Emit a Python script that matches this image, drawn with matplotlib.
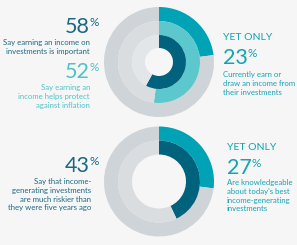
import matplotlib.pyplot as plt

# survey values (percent)
top_values = [23, 52, 58]          # outer, middle, inner ring
top_colors = ["#00a3b5", "#5cc8cd", "#00627c"]
top_greys = ["#cfd4d8", "#d9dde0", "#e3e6e9"]

bottom_values = [27, 43]           # outer, inner ring
bottom_colors = ["#00a3b5", "#00627c"]
bottom_greys = ["#cfd4d8", "#d9dde0"]

labels_58 = "Say earning an income on\ninvestments is important"
labels_52 = "Say earning an\nincome helps protect\nagainst inflation"
labels_23 = "Currently earn or\ndraw an income from\ntheir investments"
labels_43 = "Say that income-\ngenerating investments\nare much riskier than\nthey were five years ago"
labels_27 = "Are knowledgeable\nabout today's best\nincome-generating\ninvestments"

bg = "#f6f6f6"
W, H = 297, 245

plt.rcParams["font.family"] = ["Lato", "DejaVu Sans"]

fig = plt.figure(figsize=(W / 100, H / 100), dpi=100, facecolor=bg)
ax = fig.add_axes([0, 0, 1, 1])
ax.set_facecolor(bg)


def rings(ax, cx, cy, values, colors, greys, radii):
    for v, c, g, (r_out, r_in) in zip(values, colors, greys, radii):
        ax.pie([v, 100 - v], radius=r_out, center=(cx, cy), colors=[c, g],
               startangle=90, counterclock=False,
               wedgeprops=dict(width=r_out - r_in, linewidth=0))


rings(ax, 159, H - 62, top_values, top_colors, top_greys,
      [(55, 41), (41, 27), (27, 14)])
rings(ax, 159, H - 181.5, bottom_values, bottom_colors, bottom_greys,
      [(55, 41), (41, 27)])

ax.set_xlim(0, W)
ax.set_ylim(0, H)
ax.set_aspect("auto")
ax.axis("off")

dark = "#1b6880"
light = "#4fc2c8"
teal = "#12a4b6"
big = 15.5
small = 5.6
pct = 8.5

renderer = fig.canvas.get_renderer()


def number(x, y, num, color, ha):
    t = ax.text(x, H - y, num, fontsize=big, color=color, ha=ha,
                va="baseline")
    # percent sign sits at the top right of the number
    bb = t.get_window_extent(renderer)
    right = ax.transData.inverted().transform((bb.x1, bb.y1))[0]
    ax.text(right - 0.5, H - y + 7, "%", fontsize=pct, color=color,
            ha="left", va="baseline")


# top left
number(90, 33, "58", dark, "right")
ax.text(90, H - 39, labels_58, fontsize=small, color=dark, ha="right",
        va="top", multialignment="right", linespacing=1.3)
number(90, 78, "52", light, "right")
ax.text(90, H - 84, labels_52, fontsize=small, color=light, ha="right",
        va="top", multialignment="right", linespacing=1.3)

# top right
ax.text(223, H - 40, "YET ONLY", fontsize=7.5, color=teal, ha="left",
        va="baseline")
number(223, 64, "23", teal, "left")
ax.text(223, H - 71, labels_23, fontsize=small, color=teal, ha="left",
        va="top", linespacing=1.3)

# bottom left
number(90, 172, "43", dark, "right")
ax.text(91, H - 178, labels_43, fontsize=small, color=dark, ha="right",
        va="top", multialignment="right", linespacing=1.3)

# bottom right
ax.text(227, H - 150, "YET ONLY", fontsize=7.5, color=teal, ha="left",
        va="baseline")
number(227, 174, "27", teal, "left")
ax.text(227, H - 179, labels_27, fontsize=small, color=teal, ha="left",
        va="top", linespacing=1.3)

fig.savefig("out.png", dpi=100, facecolor=bg)
